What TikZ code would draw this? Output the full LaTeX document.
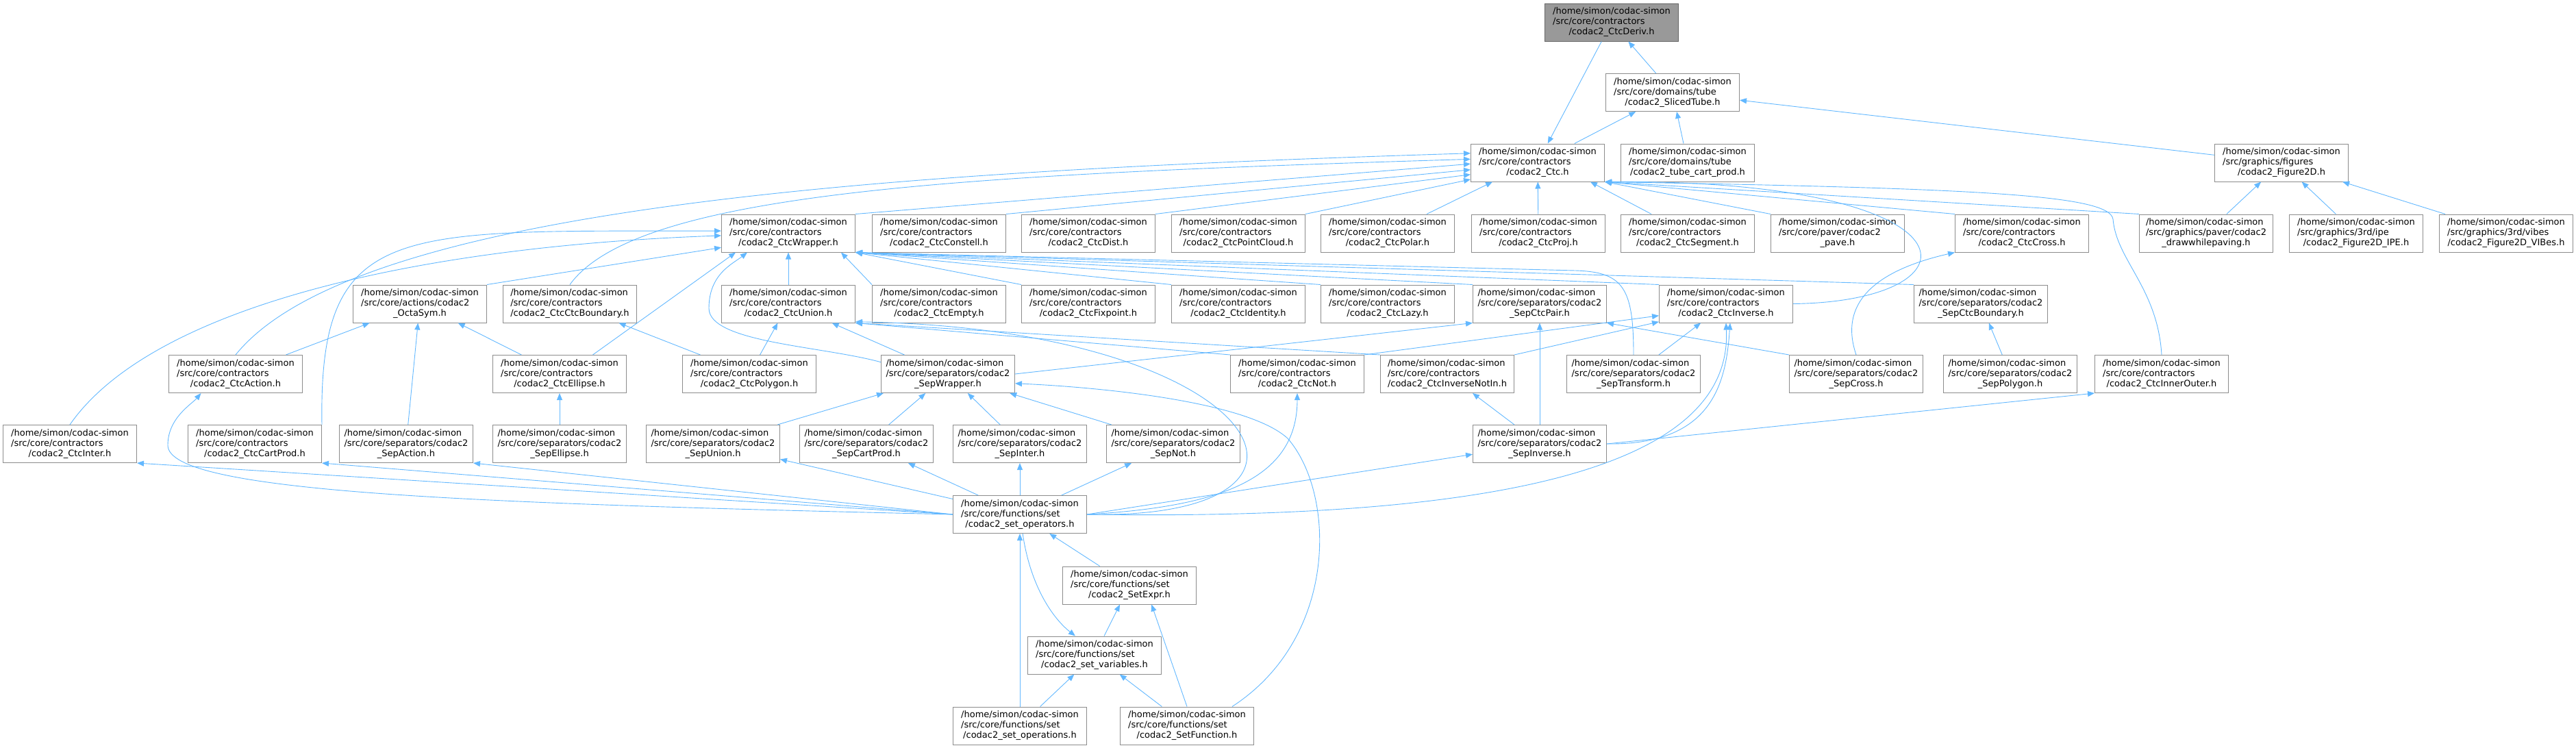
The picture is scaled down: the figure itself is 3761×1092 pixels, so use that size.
\documentclass[tikz,border=0pt]{standalone}
\usepackage{fontspec}
\setmainfont{DejaVu Sans}
\usepackage{xcolor}
\usepackage{tikz}
\usetikzlibrary{arrows.meta,shapes}

\definecolor{link}{HTML}{63B8FF}
\definecolor{frame}{HTML}{8C8C8C}
\definecolor{rootfill}{HTML}{999999}
\definecolor{rootframe}{HTML}{666666}

\newcommand{\hpath}[2]{\begin{tabular}{@{}l@{}}/home/simon/codac-simon\\#1\\\multicolumn{1}{@{}c@{}}{#2}\end{tabular}}

\begin{document}
\begin{tikzpicture}[->, >={Triangle[length=10pt,width=8pt]}, x=1pt, y=1pt,
    every edge/.style={draw=link, line width=0.9pt},
    dep/.style={draw=link, line width=0.9pt},
    file/.style={rectangle, draw=frame, fill=white, line width=1pt, minimum width=195pt, minimum height=55pt, inner xsep=7pt, inner ysep=5pt, font=\fontsize{13}{15}\selectfont},
    root/.style={file, draw=rootframe, fill=rootfill}]

      \useasboundingbox (0,0) rectangle (3761,-1092);

      % top of the graph
      \node[root] (deriv) at (2353,-32.5) {\hpath{/src/core/contractors}{/codac2\_CtcDeriv.h}};
      \node[file] (sliced) at (2442,-135) {\hpath{/src/core/domains/tube}{/codac2\_SlicedTube.h}};
      \node[file] (ctc) at (2245,-237.5) {\hpath{/src/core/contractors}{/codac2\_Ctc.h}};
      \node[file] (tcart) at (2464,-237.5) {\hpath{/src/core/domains/tube}{/codac2\_tube\_cart\_prod.h}};
      \node[file] (fig) at (3331,-237.5) {\hpath{/src/graphics/figures}{/codac2\_Figure2D.h}};

      % row 3
      \node[file] (wrapper) at (1151,-340.5) {\hpath{/src/core/contractors}{/codac2\_CtcWrapper.h}};
      \node[file] (constell) at (1371,-340.5) {\hpath{/src/core/contractors}{/codac2\_CtcConstell.h}};
      \node[file] (dist) at (1589,-340.5) {\hpath{/src/core/contractors}{/codac2\_CtcDist.h}};
      \node[file] (pcloud) at (1808,-340.5) {\hpath{/src/core/contractors}{/codac2\_CtcPointCloud.h}};
      \node[file] (polar) at (2026,-340.5) {\hpath{/src/core/contractors}{/codac2\_CtcPolar.h}};
      \node[file] (proj) at (2246,-340.5) {\hpath{/src/core/contractors}{/codac2\_CtcProj.h}};
      \node[file] (segment) at (2464,-340.5) {\hpath{/src/core/contractors}{/codac2\_CtcSegment.h}};
      \node[file] (pave) at (2683,-340.5) {\hpath{/src/core/paver/codac2}{\_pave.h}};
      \node[file] (cross) at (2952,-340.5) {\hpath{/src/core/contractors}{/codac2\_CtcCross.h}};
      \node[file] (paving) at (3221,-340.5) {\hpath{/src/graphics/paver/codac2}{\_drawwhilepaving.h}};
      \node[file] (ipe) at (3440,-340.5) {\hpath{/src/graphics/3rd/ipe}{/codac2\_Figure2D\_IPE.h}};
      \node[file] (vibes) at (3659,-340.5) {\hpath{/src/graphics/3rd/vibes}{/codac2\_Figure2D\_VIBes.h}};

      % row 4
      \node[file] (octasym) at (613,-443.5) {\hpath{/src/core/actions/codac2}{\_OctaSym.h}};
      \node[file] (ctcbound) at (832,-443.5) {\hpath{/src/core/contractors}{/codac2\_CtcCtcBoundary.h}};
      \node[file] (union) at (1151,-443.5) {\hpath{/src/core/contractors}{/codac2\_CtcUnion.h}};
      \node[file] (empty) at (1371,-443.5) {\hpath{/src/core/contractors}{/codac2\_CtcEmpty.h}};
      \node[file] (fixpoint) at (1589,-443.5) {\hpath{/src/core/contractors}{/codac2\_CtcFixpoint.h}};
      \node[file] (identity) at (1808,-443.5) {\hpath{/src/core/contractors}{/codac2\_CtcIdentity.h}};
      \node[file] (lazy) at (2026,-443.5) {\hpath{/src/core/contractors}{/codac2\_CtcLazy.h}};
      \node[file] (ctcpair) at (2248,-443.5) {\hpath{/src/core/separators/codac2}{\_SepCtcPair.h}};
      \node[file] (inverse) at (2520,-443.5) {\hpath{/src/core/contractors}{/codac2\_CtcInverse.h}};
      \node[file] (sepbound) at (2892,-443.5) {\hpath{/src/core/separators/codac2}{\_SepCtcBoundary.h}};

      % row 5
      \node[file] (action) at (344,-546) {\hpath{/src/core/contractors}{/codac2\_CtcAction.h}};
      \node[file] (ellipse) at (817,-546) {\hpath{/src/core/contractors}{/codac2\_CtcEllipse.h}};
      \node[file] (polygon) at (1094,-546) {\hpath{/src/core/contractors}{/codac2\_CtcPolygon.h}};
      \node[file] (sepwrap) at (1384,-546) {\hpath{/src/core/separators/codac2}{\_SepWrapper.h}};
      \node[file] (ctcnot) at (1894,-546) {\hpath{/src/core/contractors}{/codac2\_CtcNot.h}};
      \node[file] (notin) at (2113,-546) {\hpath{/src/core/contractors}{/codac2\_CtcInverseNotIn.h}};
      \node[file] (septrans) at (2385,-546) {\hpath{/src/core/separators/codac2}{\_SepTransform.h}};
      \node[file] (sepcross) at (2710,-546) {\hpath{/src/core/separators/codac2}{\_SepCross.h}};
      \node[file] (seppoly) at (2935,-546) {\hpath{/src/core/separators/codac2}{\_SepPolygon.h}};
      \node[file] (innerouter) at (3156,-546) {\hpath{/src/core/contractors}{/codac2\_CtcInnerOuter.h}};

      % row 6
      \node[file] (inter) at (102,-648) {\hpath{/src/core/contractors}{/codac2\_CtcInter.h}};
      \node[file] (cartprod) at (372,-648) {\hpath{/src/core/contractors}{/codac2\_CtcCartProd.h}};
      \node[file] (sepaction) at (593,-648) {\hpath{/src/core/separators/codac2}{\_SepAction.h}};
      \node[file] (sepellipse) at (817,-648) {\hpath{/src/core/separators/codac2}{\_SepEllipse.h}};
      \node[file] (sepunion) at (1041,-648) {\hpath{/src/core/separators/codac2}{\_SepUnion.h}};
      \node[file] (sepcart) at (1265,-648) {\hpath{/src/core/separators/codac2}{\_SepCartProd.h}};
      \node[file] (sepinter) at (1489,-648) {\hpath{/src/core/separators/codac2}{\_SepInter.h}};
      \node[file] (sepnot) at (1713,-648) {\hpath{/src/core/separators/codac2}{\_SepNot.h}};
      \node[file] (sepinv) at (2248,-648) {\hpath{/src/core/separators/codac2}{\_SepInverse.h}};

      % set functions
      \node[file] (setops) at (1489,-751) {\hpath{/src/core/functions/set}{/codac2\_set\_operators.h}};
      \node[file] (setexpr) at (1649,-854.5) {\hpath{/src/core/functions/set}{/codac2\_SetExpr.h}};
      \node[file] (setvars) at (1598,-956.5) {\hpath{/src/core/functions/set}{/codac2\_set\_variables.h}};
      \node[file] (setoperations) at (1489,-1059.5) {\hpath{/src/core/functions/set}{/codac2\_set\_operations.h}};
      \node[file] (setfunc) at (1733,-1059.5) {\hpath{/src/core/functions/set}{/codac2\_SetFunction.h}};

      \path
      (sliced) edge (deriv)
      (deriv) edge (ctc)
      (ctc) edge (sliced)
      (tcart) edge (sliced)
      (fig) edge (sliced)
      (paving) edge (fig)
      (ipe) edge (fig)
      (vibes) edge (fig)
      (wrapper.north east) edge (ctc.181)
      (constell.north east) edge (ctc.186)
      (dist.north east) edge (ctc.190)
      (pcloud.north east) edge (ctc.194)
      (polar) edge (ctc.203)
      (proj) edge (ctc)
      (segment) edge (ctc.340)
      (pave.north west) edge (ctc.south east)
      (cross.north west) edge (ctc.south east)
      (paving.north west) edge (ctc.south east);

      \path
      (octasym.north east) edge (wrapper.192)
      (union) edge (wrapper)
      (ellipse.30) edge (wrapper.200)
      (empty.north west) edge (wrapper.340)
      (fixpoint.north west) edge (wrapper.south east)
      (identity.north west) edge (wrapper.south east)
      (lazy.north west) edge (wrapper.south east)
      (ctcpair.north west) edge (wrapper.south east)
      (inverse.north west) edge (wrapper.south east)
      (sepbound.north west) edge (wrapper.south east)
      (polygon) edge (ctcbound)
      (polygon) edge (union)
      (sepwrap) edge (union)
      (ctcnot.north west) edge (union.south east)
      (notin.north west) edge (union.south east)
      (action) edge (octasym)
      (ellipse) edge (octasym)
      (sepaction) edge (octasym)
      (sepellipse) edge (ellipse)
      (sepwrap.east) edge (ctcpair.south west)
      (sepinv) edge (ctcpair)
      (sepinv) edge (notin)
      (ctcnot.north east) edge (inverse.190)
      (notin.north east) edge (inverse.195)
      (septrans) edge (inverse)
      (sepcross.north west) edge (ctcpair.south east)
      (seppoly) edge (sepbound)
      (sepinv.east) edge (innerouter.south west);

      \path
      (sepunion) edge (sepwrap)
      (sepcart) edge (sepwrap)
      (sepinter) edge (sepwrap)
      (sepnot) edge (sepwrap)
      (setops) edge (sepinter)
      (setops) edge (sepnot)
      (setops) edge (sepcart)
      (setops) edge (sepunion)
      (setops.west) edge (sepaction.south east)
      (setops.west) edge (cartprod.south east)
      (setops.west) edge (inter.south east)
      (setops.east) edge (sepinv)
      (setexpr) edge (setops)
      (setvars) edge (setexpr)
      (setoperations) edge (setops)
      (setoperations) edge (setvars)
      (setfunc) edge (setvars)
      (setfunc.north) edge (setexpr.319);

      % long curved links
      \draw[dep] (action.north) .. controls (520,-300) and (1300,-250) .. (ctc.172);
      \draw[dep] (ctcbound.north) .. controls (930,-280) and (1400,-255) .. (ctc.177);
      \draw[dep] (inverse.east) .. controls (2900,-440) and (2900,-262) .. (ctc.south east);
      \draw[dep] (innerouter.north) .. controls (3150,-420) and (3090,-380) .. (3085,-320) .. controls (3080,-285) and (2900,-275) .. (ctc.south east);
      \draw[dep] (inter.north) .. controls (220,-450) and (600,-360) .. (wrapper.182);
      \draw[dep] (cartprod.north east) .. controls (465,-320) and (580,-338) .. (wrapper.178);
      \draw[dep] (sepwrap.170) .. controls (1200,-505) and (1035,-500) .. (1035,-450) .. controls (1035,-400) and (1070,-385) .. (wrapper.205);
      \draw[dep] (septrans.north) .. controls (2385,-420) and (2370,-397) .. (2300,-395) -- (wrapper.south east);
      \draw[dep] (sepcross.north) .. controls (2680,-430) and (2760,-390) .. (cross.south west);
      \draw[dep] (sepinv.east) .. controls (2500,-650) and (2520,-560) .. (inverse.282);
      \draw[dep] (setops.west) .. controls (700,-735) and (245,-720) .. (245,-650) .. controls (245,-610) and (280,-590) .. (action.209);
      \draw[dep] (setops.east) .. controls (1780,-740) and (1894,-700) .. (ctcnot.south);
      \draw[dep] (setops.east) .. controls (2000,-760) and (1850,-480) .. (union.345);
      \draw[dep] (setops.east) .. controls (2200,-760) and (2530,-680) .. (inverse.south);
      \draw[dep] (setops) .. controls (1505,-860) and (1540,-905) .. (setvars.135);
      \draw[dep] (setfunc.23) .. controls (1955,-930) and (1950,-720) .. (1880,-640) .. controls (1820,-585) and (1600,-565) .. (sepwrap.352);
    \end{tikzpicture}
\end{document}
